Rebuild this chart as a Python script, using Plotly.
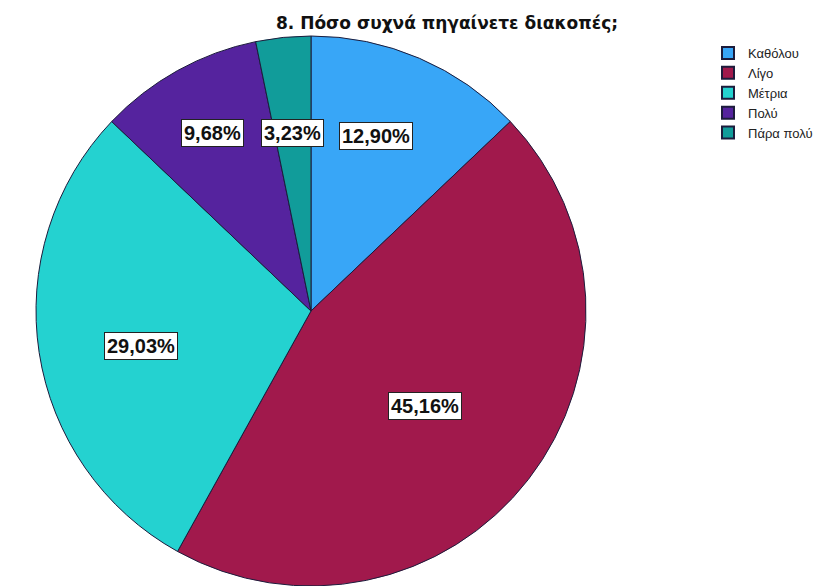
import math
import plotly.graph_objects as go

# ---- data ----
categories = ["Καθόλου", "Λίγο", "Μέτρια", "Πολύ", "Πάρα πολύ"]
counts = [4, 14, 9, 3, 1]
percent_labels = ["12,90%", "45,16%", "29,03%", "9,68%", "3,23%"]
title_text = "8. Πόσο συχνά πηγαίνετε διακοπές;"

# ---- style ----
colors = ["#38a6f7", "#a1194c", "#24d2d0", "#55239e", "#119c9a"]
W, H = 829, 586
cx, cy, R = 311, 311, 275          # pie centre / radius in pixels
label_radius_frac = [0.68, 0.54, 0.63, 0.74, 0.65]
label_angle_shift_deg = [-3, 2, -3, 0, 0]

fig = go.Figure()
fig.add_trace(go.Pie(
    labels=categories,
    values=counts,
    sort=False,
    direction="clockwise",
    rotation=0,
    textinfo="none",
    hoverinfo="label+percent",
    marker=dict(colors=colors, line=dict(color="#1c1c3c", width=1)),
    domain=dict(x=[(cx - R) / W, (cx + R) / W],
                y=[(H - cy - R) / H, (H - cy + R) / H]),
    showlegend=True,
))

# percentage labels placed at each slice's mid-angle
total = sum(counts)
cum = 0
annotations = []
for i, v in enumerate(counts):
    mid = (cum + v / 2) / total * 2 * math.pi + math.radians(label_angle_shift_deg[i])
    cum += v
    r = R * label_radius_frac[i]
    px = cx + r * math.sin(mid)
    py = cy - r * math.cos(mid)
    annotations.append(dict(
        x=px / W, y=1 - py / H, xref="paper", yref="paper",
        text="<b>" + percent_labels[i] + "</b>", showarrow=False,
        font=dict(family="Liberation Sans, Arial", size=20, color="#111111"),
        bgcolor="white", bordercolor="#222222", borderwidth=1, borderpad=2,
        xanchor="center", yanchor="middle",
    ))

fig.update_layout(
    width=W, height=H,
    margin=dict(l=0, r=0, t=0, b=0),
    paper_bgcolor="white", plot_bgcolor="white",
    title=dict(text="<b>" + title_text + "</b>", x=447 / W, xanchor="center",
               y=1 - 23 / H, yanchor="middle",
               font=dict(family="DejaVu Sans", size=17, color="#111111")),
    legend=dict(x=708 / W, y=1 - 38 / H, xanchor="left", yanchor="top",
                font=dict(family="Liberation Sans, Arial", size=13, color="#222222"),
                tracegroupgap=0, itemsizing="constant",
                bgcolor="rgba(0,0,0,0)"),
    annotations=annotations,
)

fig.write_html("out.html")
